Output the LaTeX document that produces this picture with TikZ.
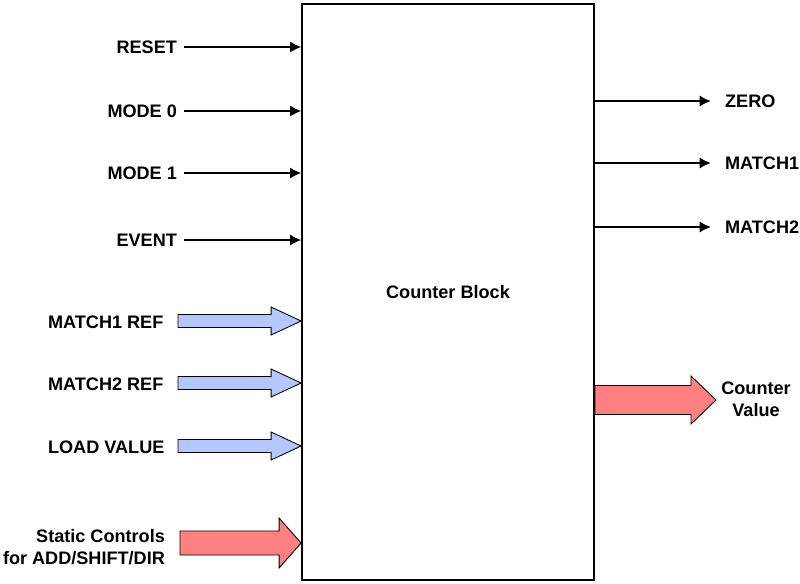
\documentclass[tikz,border=0pt]{standalone}
\usepackage{fontspec}
\setmainfont{Liberation Sans}
\usetikzlibrary{calc}
\definecolor{inblue}{RGB}{180,199,255}
\definecolor{outred}{RGB}{255,128,128}
\tikzset{
  lbl/.style={font=\fontsize{10.3}{12.6}\selectfont\bfseries, inner sep=1pt},
  sig/.style={line width=0.6pt, -{Latex[length=2.2mm,width=2.2mm]}},
  blk/.style={draw, line width=1.1pt, minimum width=5.84cm, minimum height=11.52cm}
}
\usetikzlibrary{arrows.meta}
% fat arrow: start, tip, shaft half, head half, head length, colour
\newcommand{\fatarrow}[6]{%
  \draw[fill=#6, line width=0.5pt] ($(#1)+(0,-#3)$) -- ($(#2)+(-#5,-#3)$) -- ($(#2)+(-#5,-#4)$) -- (#2)
    -- ($(#2)+(-#5,#4)$) -- ($(#2)+(-#5,#3)$) -- ($(#1)+(0,#3)$) -- cycle;}

\begin{document}
\begin{tikzpicture}[x=0.02cm, y=-0.02cm]
        \useasboundingbox (0,0) rectangle (800,583);
        \node[blk, lbl] (cb) at (448,292) {Counter Block};
        % inputs
        \node[lbl, anchor=east](reset) at (179,47) {RESET};
        \node[lbl, anchor=east](mode0) at (179,111) {MODE 0};
        \node[lbl, anchor=east](mode1) at (179,173) {MODE 1};
        \node[lbl, anchor=east](event) at (179,240) {EVENT};
        \draw[sig] ([xshift=3pt]reset.east) -- (reset.east -| cb.west);
        \draw[sig] ([xshift=3pt]mode0.east) -- (mode0.east -| cb.west);
        \draw[sig] ([xshift=3pt]mode1.east) -- (mode1.east -| cb.west);
        \draw[sig] ([xshift=3pt]event.east) -- (event.east -| cb.west);
        % outputs
        \node[lbl, anchor=west](zero) at (723,101) {ZERO};
        \node[lbl, anchor=west](match1) at (723,163) {MATCH1};
        \node[lbl, anchor=west](match2) at (723,227) {MATCH2};
        \draw[sig] (zero.west -| cb.east) -- ([xshift=-7pt]zero.west);
        \draw[sig] (match1.west -| cb.east) -- ([xshift=-7pt]match1.west);
        \draw[sig] (match2.west -| cb.east) -- ([xshift=-7pt]match2.west);
        % buses
        \node[lbl, anchor=west](m1ref) at (46,322) {MATCH1 REF};
        \node[lbl, anchor=west](m2ref) at (46,384) {MATCH2 REF};
        \node[lbl, anchor=west](load) at (46,447) {LOAD VALUE};
        \node[lbl, align=right, anchor=east](static) at (167,547) {Static Controls\\for ADD/SHIFT/DIR};
        \node[lbl, align=center](cval) at (756,399) {Counter\\Value};
        \coordinate(m1s) at (178,321);
        \coordinate(m2s) at (178,383);
        \coordinate(lds) at (178,446);
        \coordinate(sts) at (180,543);
        \coordinate(m1t) at (m1s -| cb.west);
        \coordinate(m2t) at (m2s -| cb.west);
        \coordinate(ldt) at (lds -| cb.west);
        \coordinate(stt) at (sts -| cb.west);
        \coordinate(cvt) at (716,400);
        \coordinate(cvs) at (cvt -| cb.east);
        \fatarrow{m1s}{m1t}{6.5}{14}{30}{inblue}
        \fatarrow{m2s}{m2t}{6.5}{14}{30}{inblue}
        \fatarrow{lds}{ldt}{6.5}{14}{30}{inblue}
        \fatarrow{sts}{stt}{12}{25}{22}{outred}
        \fatarrow{cvs}{cvt}{14.5}{24}{25}{outred}
        \end{tikzpicture}
\end{document}
